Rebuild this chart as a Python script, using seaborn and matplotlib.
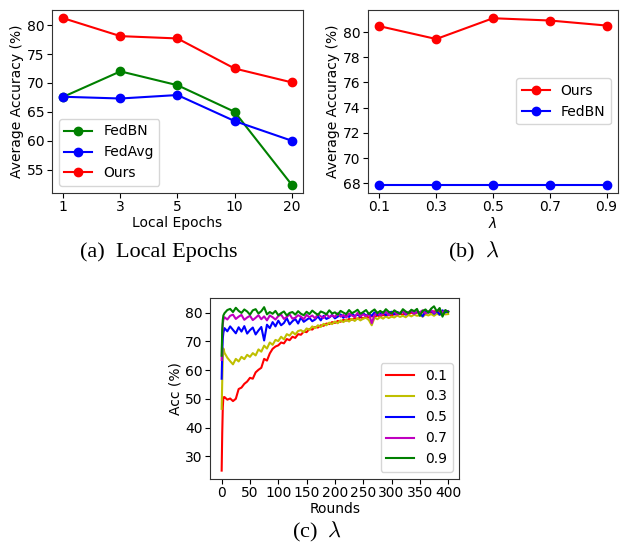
import numpy as np
import pandas as pd
import matplotlib
matplotlib.use('Agg')
import matplotlib.pyplot as plt
import seaborn as sns

# (a) local epochs
epochs = ['1', '3', '5', '10', '20']
fedbn_ep = [67.6, 72.0, 69.6, 65.0, 52.4]
fedavg_ep = [67.6, 67.3, 67.9, 63.4, 60.0]
ours_ep = [81.2, 78.1, 77.7, 72.5, 70.1]

# (b) lambda
lambdas = ['0.1', '0.3', '0.5', '0.7', '0.9']
ours_lam = [80.47, 79.45, 81.1, 80.92, 80.52]
fedbn_lam = [67.9, 67.9, 67.9, 67.9, 67.9]

# (c) accuracy per round for each lambda
rounds = [0, 1, 2, 3] + list(range(5, 401, 5))
acc_01 = [25, 38, 47, 50.5,
          50.6, 49.7, 50.1, 49.2, 50.0, 53.4, 53.9, 55.2, 56.0, 57.3,
          57.0, 59.2, 60.1, 60.8, 63.9, 63.3, 65.8, 67.4, 68.2, 68.6,
          69.6, 69.3, 70.8, 70.4, 71.6, 71.2, 72.5, 72.3, 73.4, 73.2,
          74.3, 74.1, 75.0, 74.8, 75.6, 75.4, 76.2, 76.0, 76.7, 76.4,
          77.1, 76.8, 77.5, 77.2, 77.8, 77.5, 78.1, 77.8, 78.4, 78.0,
          78.6, 78.3, 78.8, 78.5, 79.0, 78.7, 79.2, 78.9, 79.4, 79.0,
          79.5, 79.2, 79.7, 79.3, 79.8, 79.5, 80.0, 79.6, 80.1, 79.7,
          80.2, 79.8, 80.3, 79.9, 80.5, 80.0, 80.4, 80.1, 80.5, 80.2]
acc_03 = [46.5, 56, 64, 67.5,
          66.0, 64.3, 63.1, 62.0, 63.9, 63.0, 64.6, 63.8, 65.3, 64.6,
          65.9, 65.1, 67.2, 66.4, 68.5, 67.5, 69.6, 68.8, 70.5, 70.1,
          71.6, 70.7, 72.5, 72.0, 73.3, 72.4, 73.6, 73.9, 73.2, 74.5,
          74.0, 75.2, 74.6, 75.6, 75.0, 76.1, 75.6, 76.5, 76.0, 76.9,
          76.3, 77.3, 76.7, 77.5, 76.9, 77.8, 77.1, 78.0, 77.3, 77.9,
          78.2, 77.4, 75.6, 78.3, 77.7, 78.5, 77.9, 78.7, 78.1, 78.6,
          78.3, 79.0, 78.5, 78.9, 78.4, 79.2, 78.7, 79.3, 78.9, 79.1,
          78.6, 79.4, 79.0, 79.5, 78.9, 79.6, 79.2, 79.7, 79.4, 79.5]
acc_05 = [57, 66, 71, 73,
          74.6, 73.5, 75.2, 74.0, 72.8, 74.9, 73.4, 75.3, 72.7, 73.9,
          74.8, 72.4, 73.8, 75.0, 70.3, 75.8, 74.6, 76.7, 75.2, 77.2,
          75.6, 76.4, 78.1, 75.9, 77.0, 77.8, 76.2, 78.3, 76.8, 77.5,
          78.2, 77.0, 77.6, 78.7, 77.3, 78.9, 77.8, 78.3, 79.2, 78.0,
          78.6, 79.4, 78.2, 79.1, 78.5, 79.7, 78.8, 79.3, 78.6, 79.8,
          79.0, 79.5, 78.9, 80.1, 79.2, 79.7, 80.2, 79.1, 79.9, 80.3,
          79.4, 80.2, 79.8, 80.5, 79.3, 80.1, 80.6, 79.7, 80.3, 80.0,
          78.7, 80.4, 80.0, 80.7, 79.6, 80.5, 79.3, 80.8, 80.1, 80.5]
acc_07 = [63.5, 72, 76, 77.5,
          78.4, 77.6, 78.9, 79.3, 77.8, 78.6, 79.2, 77.5, 78.3, 78.9,
          77.4, 78.2, 79.1, 77.7, 78.7, 77.3, 79.0, 78.4, 77.6, 78.8,
          79.3, 77.8, 78.5, 79.4, 77.9, 78.2, 79.1, 78.6, 77.7, 79.2,
          78.4, 79.0, 78.0, 79.5, 78.7, 78.1, 79.6, 78.4, 79.1, 78.5,
          79.8, 78.6, 79.2, 78.3, 79.7, 79.0, 78.5, 79.9, 78.8, 79.4,
          78.7, 79.8, 76.3, 79.2, 80.1, 79.0, 79.6, 80.3, 79.1, 79.8,
          80.4, 79.3, 80.0, 80.6, 79.5, 80.2, 80.7, 79.6, 80.5, 80.1,
          80.8, 79.7, 80.4, 80.9, 79.9, 80.6, 81.0, 80.1, 80.7, 80.4]
acc_09 = [65, 74, 77.5, 79,
          79.8, 80.9, 81.3, 80.2, 81.7, 80.6, 79.9, 81.1, 80.4, 79.3,
          80.8, 81.2, 79.7, 80.5, 81.9, 79.4, 80.2, 79.6, 80.6, 79.1,
          79.8, 80.4, 79.0, 79.9, 80.2, 79.3, 80.5, 79.6, 79.1, 80.3,
          79.5, 80.7, 79.9, 79.2, 80.4, 80.0, 79.4, 80.8, 79.7, 80.1,
          79.3, 80.6, 80.0, 79.5, 80.9, 79.8, 80.3, 81.0, 79.6, 80.2,
          80.9, 79.5, 80.4, 81.1, 79.8, 80.6, 79.9, 81.2, 80.3, 79.7,
          80.8, 80.1, 79.6, 81.2, 80.4, 79.8, 81.0, 80.5, 81.3, 78.9,
          80.6, 81.1, 80.0, 81.4, 82.2, 80.4, 81.6, 78.6, 80.9, 80.2]

plt.rcParams['font.family'] = ['DejaVu Sans']
plt.rcParams['font.size'] = 10
plt.rcParams['xtick.major.pad'] = 2
plt.rcParams['ytick.major.pad'] = 2

fig = plt.figure(figsize=(6.26, 5.51), dpi=100)
ax1 = fig.add_axes([0.083, 0.650, 0.401, 0.332])
ax2 = fig.add_axes([0.588, 0.650, 0.399, 0.332])
ax3 = fig.add_axes([0.336, 0.131, 0.398, 0.328])

line_kw = dict(marker='o', markersize=6, linewidth=1.5, markeredgewidth=1)

# panel (a)
pos = np.arange(len(epochs))
for vals, c, name in [(fedbn_ep, 'g', 'FedBN'), (fedavg_ep, 'b', 'FedAvg'), (ours_ep, 'r', 'Ours')]:
    sns.lineplot(x=pos, y=vals, color=c, markeredgecolor=c, label=name, ax=ax1, **line_kw)
ax1.set_xticks(pos)
ax1.set_xticklabels(epochs)
ax1.set_yticks([55, 60, 65, 70, 75, 80])
ax1.set_xlabel('Local Epochs', labelpad=1)
ax1.set_ylabel('Average Accuracy (%)', labelpad=2)
ax1.legend(loc='lower left', fontsize=10)

# panel (b)
pos = np.arange(len(lambdas))
for vals, c, name in [(ours_lam, 'r', 'Ours'), (fedbn_lam, 'b', 'FedBN')]:
    sns.lineplot(x=pos, y=vals, color=c, markeredgecolor=c, label=name, ax=ax2, **line_kw)
ax2.set_xticks(pos)
ax2.set_xticklabels(lambdas)
ax2.set_yticks([68, 70, 72, 74, 76, 78, 80])
ax2.set_xlabel(r'$\lambda$', labelpad=1)
ax2.set_ylabel('Average Accuracy (%)', labelpad=2)
ax2.legend(loc='center right', fontsize=10)

# panel (c)
series = [(acc_01, 'r', '0.1'), (acc_03, 'y', '0.3'), (acc_05, 'b', '0.5'),
          (acc_07, 'm', '0.7'), (acc_09, 'g', '0.9')]
for vals, c, name in series:
    sns.lineplot(x=rounds, y=vals, color=c, label=name, linewidth=1.5, ax=ax3)
ax3.set_xticks(range(0, 401, 50))
ax3.set_yticks([30, 40, 50, 60, 70, 80])
ax3.set_xlabel('Rounds', labelpad=1)
ax3.set_ylabel('Acc (%)', labelpad=2)
ax3.legend(loc='lower right', fontsize=10)

for ax in (ax1, ax2, ax3):
    for s in ax.spines.values():
        s.set_color('#333333')

cap = dict(family='Liberation Serif', fontsize=16, ha='center', va='center', math_fontfamily='cm')
fig.text(0.253, 0.543, '(a)  Local Epochs', **cap)
fig.text(0.757, 0.543, r'(b)  $\lambda$', **cap)
fig.text(0.506, 0.034, r'(c)  $\lambda$', **cap)

fig.savefig('out.png', dpi=100)
